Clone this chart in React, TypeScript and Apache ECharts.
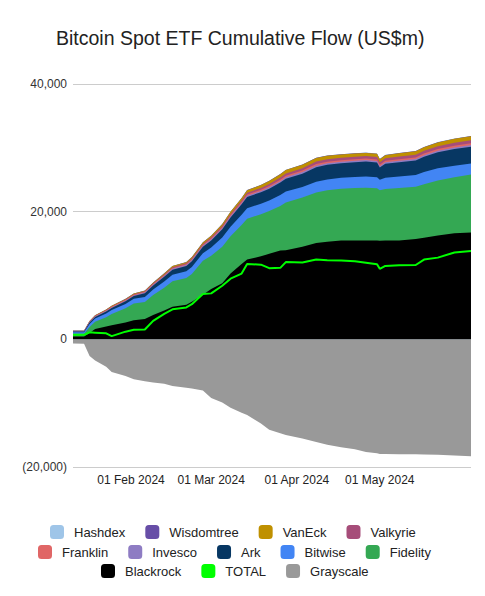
import React, { useEffect, useRef } from "react";
import * as echarts from "echarts";

const dates = [
  "2024-01-11", "2024-01-15", "2024-01-17", "2024-01-19", "2024-01-23", "2024-01-25", "2024-01-30",
  "2024-02-02", "2024-02-06", "2024-02-09", "2024-02-13", "2024-02-16", "2024-02-21", "2024-02-23",
  "2024-02-27", "2024-03-01", "2024-03-05", "2024-03-08", "2024-03-12", "2024-03-14", "2024-03-19",
  "2024-03-22", "2024-03-26", "2024-03-28", "2024-04-03", "2024-04-08", "2024-04-12", "2024-04-17",
  "2024-04-22", "2024-04-26", "2024-04-30", "2024-05-01", "2024-05-03", "2024-05-08", "2024-05-14",
  "2024-05-17", "2024-05-22", "2024-05-28", "2024-06-03",
];

const blackrock = [450, 450, 1000, 1600, 2000, 2200, 2650, 3000, 3200, 3800, 4500, 5100, 5400, 5900, 7000, 7900, 8800, 10300, 11800, 12500, 13000, 13400, 13900, 13950, 14500, 15100, 15300, 15500, 15500, 15500, 15500, 15450, 15500, 15500, 15700, 15900, 16250, 16600, 16730];
const fidelity = [420, 420, 950, 1150, 1450, 1750, 2200, 2600, 2650, 3150, 3600, 4000, 4200, 4350, 5300, 5200, 5700, 5850, 6100, 6400, 6600, 6700, 7000, 7500, 7700, 7900, 8050, 8100, 8200, 8250, 8150, 7900, 8050, 8200, 8200, 8400, 8650, 8800, 9100];
const bitwise = [250, 250, 450, 500, 600, 650, 700, 750, 800, 850, 950, 1000, 1050, 1100, 1200, 1300, 1450, 1500, 1600, 1650, 1650, 1650, 1700, 1700, 1650, 1700, 1700, 1700, 1750, 1750, 1750, 1650, 1750, 1800, 1850, 1900, 1900, 1800, 1730];
const ark = [110, 110, 250, 250, 300, 300, 400, 420, 550, 620, 750, 800, 850, 900, 1000, 1100, 1300, 1450, 1650, 1750, 1800, 1850, 1950, 2000, 2100, 2250, 2300, 2300, 2300, 2350, 2300, 1900, 2200, 2250, 2250, 2400, 2500, 2600, 2620];
const invesco = [30, 30, 60, 75, 90, 100, 110, 115, 120, 125, 135, 140, 140, 145, 150, 155, 160, 170, 180, 190, 195, 210, 225, 235, 245, 255, 245, 235, 235, 235, 235, 225, 235, 240, 250, 255, 260, 265, 270];
const franklin = [45, 45, 65, 75, 85, 95, 100, 100, 100, 105, 110, 115, 115, 120, 125, 130, 140, 150, 165, 180, 185, 200, 215, 225, 235, 245, 240, 235, 235, 235, 235, 225, 235, 240, 250, 260, 270, 280, 285];
const valkyrie = [20, 20, 35, 45, 55, 65, 75, 85, 95, 105, 130, 145, 150, 160, 175, 190, 210, 230, 255, 280, 295, 325, 355, 370, 390, 405, 395, 385, 385, 385, 385, 375, 385, 395, 405, 420, 435, 450, 455];
const vaneck = [35, 35, 60, 70, 80, 90, 95, 100, 105, 115, 150, 175, 190, 200, 220, 245, 280, 320, 365, 415, 440, 480, 515, 530, 540, 550, 525, 500, 500, 500, 500, 480, 500, 530, 550, 570, 590, 610, 625];
const wisdomtree = [5, 5, 10, 10, 15, 15, 15, 15, 15, 15, 15, 15, 15, 15, 20, 20, 20, 20, 25, 25, 25, 25, 30, 30, 30, 35, 35, 35, 35, 35, 35, 35, 35, 35, 35, 35, 35, 35, 35];
const hashdex = [5, 5, 10, 10, 10, 10, 10, 10, 10, 10, 10, 10, 10, 10, 10, 10, 10, 10, 10, 10, 10, 10, 10, 10, 10, 10, 10, 10, 10, 10, 10, 10, 10, 10, 10, 10, 10, 10, 10];
const grayscale = [-650, -700, -2600, -3300, -4300, -5100, -5750, -6250, -6550, -6750, -6950, -7300, -7600, -7700, -8000, -9200, -9900, -10700, -11500, -11850, -13200, -14150, -14700, -15000, -15550, -16100, -16500, -16900, -17200, -17650, -17850, -17950, -17950, -18000, -18000, -18050, -18100, -18200, -18300];
const total = [700, 700, 1100, 1050, 950, 500, 1200, 1500, 1550, 2900, 4000, 4700, 5000, 5500, 7100, 7200, 8400, 9500, 10300, 11800, 11700, 11150, 11200, 12100, 12050, 12500, 12400, 12350, 12250, 12000, 11750, 11050, 11500, 11600, 11650, 12500, 12800, 13600, 13850];

const xTickDates = ["2024-02-01", "2024-03-01", "2024-04-01", "2024-05-01"];
const yTicks = [-20000, 0, 20000, 40000];

const legendRows = [
  ["Hashdex", "Wisdomtree", "VanEck", "Valkyrie"],
  ["Franklin", "Invesco", "Ark", "Bitwise", "Fidelity"],
  ["Blackrock", "TOTAL", "Grayscale"],
];

const colors: Record<string, string> = {
  Hashdex: "#9fc5e8",
  Wisdomtree: "#674ea7",
  VanEck: "#bf9000",
  Valkyrie: "#a64d79",
  Franklin: "#e06666",
  Invesco: "#8e7cc3",
  Ark: "#073763",
  Bitwise: "#4285f4",
  Fidelity: "#34a853",
  Blackrock: "#000000",
  TOTAL: "#00ff00",
  Grayscale: "#999999",
};

const FONT = "Arial, 'Liberation Sans', sans-serif";
const MONTHS = ["Jan", "Feb", "Mar", "Apr", "May", "Jun", "Jul", "Aug", "Sep", "Oct", "Nov", "Dec"];

function ts(s: string) {
  return new Date(s + "T00:00:00").getTime();
}

function fmtDate(v: number) {
  const d = new Date(v);
  const dd = String(d.getDate()).padStart(2, "0");
  return `${dd} ${MONTHS[d.getMonth()]} ${d.getFullYear()}`;
}

function fmtNum(v: number) {
  const s = Math.abs(v).toLocaleString("en-US");
  return v < 0 ? `(${s})` : s;
}

export default function App() {
  const ref = useRef<HTMLDivElement>(null);
  useEffect(() => {
    if (!ref.current) return;
    const chart = echarts.init(ref.current, undefined, { renderer: "svg" });
    const pair = (arr: number[]) => dates.map((d, i) => [ts(d), arr[i]]);
    // bottom to top stacking order
    const stacked: [string, number[]][] = [
      ["Blackrock", blackrock],
      ["Fidelity", fidelity],
      ["Bitwise", bitwise],
      ["Ark", ark],
      ["Invesco", invesco],
      ["Franklin", franklin],
      ["Valkyrie", valkyrie],
      ["VanEck", vaneck],
      ["Wisdomtree", wisdomtree],
      ["Hashdex", hashdex],
    ];
    // stack manually: each layer is drawn from 0 to its cumulative top, top layers first
    const running = dates.map(() => 0);
    const layers = stacked.map(([name, arr]) => {
      const tops = arr.map((v, i) => (running[i] += v));
      return { name, tops };
    });
    const series: any[] = layers
      .slice()
      .reverse()
      .map(({ name, tops }) => ({
        name,
        type: "line",
        data: pair(tops),
        symbol: "none",
        lineStyle: { width: 0 },
        areaStyle: { color: colors[name], opacity: 1 },
        itemStyle: { color: colors[name] },
        z: 2,
      }));
    series.push({
      name: "Grayscale",
      type: "line",
      data: pair(grayscale),
      symbol: "none",
      lineStyle: { width: 0 },
      areaStyle: { color: colors.Grayscale, opacity: 1 },
      itemStyle: { color: colors.Grayscale },
      z: 2,
    });
    series.push({
      name: "TOTAL",
      type: "line",
      data: pair(total),
      symbol: "none",
      lineStyle: { width: 2, color: colors.TOTAL },
      itemStyle: { color: colors.TOTAL },
      z: 5,
    });

    const legendTops = [520, 540, 559];
    const legendLefts = [45, 33, 96];
    const legend = legendRows.map((row, i) => ({
      data: row,
      top: legendTops[i],
      left: legendLefts[i],
      icon: "roundRect",
      itemWidth: 14,
      itemHeight: 14,
      itemGap: 20,
      selectedMode: false,
      textStyle: { fontSize: 13, color: "#222", fontFamily: FONT, padding: [0, 0, 0, 5] },
    }));

    chart.setOption({
      animation: false,
      backgroundColor: "#ffffff",
      title: {
        text: "Bitcoin Spot ETF Cumulative Flow (US$m)",
        left: 51,
        top: 23,
        textStyle: { fontSize: 19.5, fontWeight: "normal", color: "#222", fontFamily: FONT },
      },
      legend,
      grid: { left: 73, right: 14, top: 84, bottom: 129, containLabel: false },
      xAxis: {
        type: "value",
        min: ts(dates[0]),
        max: ts(dates[dates.length - 1]),
        axisLine: { show: false },
        axisTick: { show: false },
        splitLine: { show: false },
        axisLabel: {
          customValues: xTickDates.map(ts),
          formatter: (v: number) => fmtDate(v),
          fontSize: 12,
          color: "#222",
          fontFamily: FONT,
          margin: 7,
        },
      },
      yAxis: {
        type: "value",
        min: yTicks[0],
        max: yTicks[yTicks.length - 1],
        interval: 20000,
        axisLine: { show: false },
        axisTick: { show: false },
        splitLine: { lineStyle: { color: "#cccccc", width: 1 } },
        axisLabel: {
          formatter: (v: number) => fmtNum(v),
          fontSize: 12,
          color: "#333",
          fontFamily: FONT,
          margin: 6,
        },
      },
      series,
    });
    return () => chart.dispose();
  }, []);
  return (
    <div
      ref={ref}
      style={{ position: "absolute", left: 0, top: 0, width: 485, height: 596, background: "#fff" }}
    />
  );
}
